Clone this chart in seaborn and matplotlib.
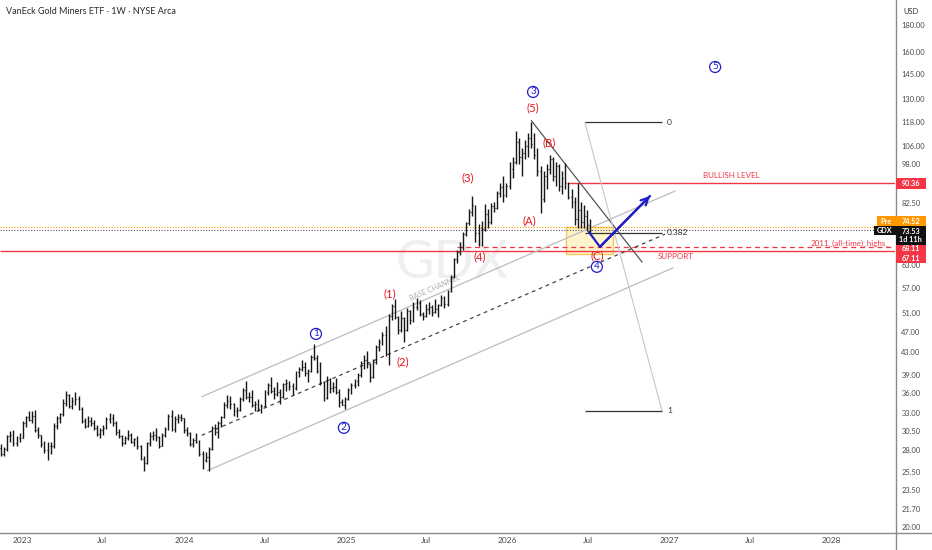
import math
import numpy as np
import pandas as pd
import matplotlib
matplotlib.use("Agg")
import matplotlib.pyplot as plt
import matplotlib.dates as mdates
import matplotlib.ticker as mticker
from matplotlib.patches import Rectangle
from matplotlib.lines import Line2D
import seaborn as sns

# weekly OHLC bars, first bar is the week of 2022-11-14
first_week = "2022-11-14"
opens = [
    28.3, 27.6, 28.2, 29.8, 29.9, 28.9, 29.5, 29.6, 31.5, 32.4,
    32.0, 32.6, 30.6, 29.9, 28.8, 28.0, 28.6, 28.5, 31.2, 32.2,
    32.8, 34.5, 35.6, 34.0, 34.8, 35.0, 33.6, 31.9, 31.2, 31.8,
    31.6, 30.9, 30.1, 30.6, 30.9, 32.1, 32.3, 31.6, 30.3, 29.8,
    28.9, 29.5, 30.0, 29.0, 29.4, 28.5, 27.0, 26.5, 28.9, 29.8,
    29.9, 29.7, 28.6, 30.0, 30.8, 32.6, 30.8, 32.1, 32.4, 32.2,
    30.6, 30.2, 28.8, 29.3, 29.1, 27.6, 26.9, 27.2, 28.2, 30.9,
    30.3, 31.5, 32.4, 34.2, 34.8, 34.3, 33.2, 33.4, 35.1, 36.4,
    35.3, 35.4, 34.1, 34.3, 33.5, 34.0, 36.2, 37.3, 36.3, 35.8,
    36.2, 35.4, 37.4, 37.6, 37.1, 36.7, 39.4, 40.0, 40.4, 39.3,
    39.6, 42.1, 42.0, 39.6, 37.7, 35.2, 38.2, 36.8, 37.0, 36.2,
    34.6, 34.2, 35.1, 36.5, 37.3, 37.9, 38.9, 41.0, 41.6, 40.8,
    38.6, 41.3, 44.0, 44.9, 46.3, 42.7, 50.3, 52.6, 50.2, 47.3,
    49.9, 47.5, 51.4, 49.5, 52.5, 53.4, 50.9, 50.3, 52.0, 52.4,
    51.2, 52.0, 52.9, 54.6, 53.0, 56.2, 59.8, 64.6, 66.8, 68.3,
    72.3, 75.8, 79.3, 81.8, 72.5, 74.1, 73.7, 78.9, 76.0, 81.7,
    81.0, 86.2, 88.5, 85.6, 89.0, 96.0, 99.0, 108.0, 101.0, 103.0,
    106.0, 110.0, 107.0, 102.0, 95.0, 84.0, 93.0, 96.0, 100.0, 93.0,
    97.0, 89.0, 92.0, 90.0, 85.0, 83.0, 77.0, 80.0, 76.0, 78.0, 75.0,
]
highs = [
    28.8, 28.4, 30.0, 30.5, 30.6, 29.8, 30.2, 31.8, 32.6, 33.3,
    33.2, 33.4, 31.0, 30.0, 29.2, 29.0, 29.0, 31.5, 32.5, 33.0,
    35.0, 36.3, 35.8, 35.3, 36.1, 35.5, 33.9, 32.2, 32.6, 32.4,
    32.0, 31.3, 30.9, 31.3, 32.4, 33.0, 32.8, 31.9, 30.8, 30.0,
    29.8, 30.6, 30.2, 29.6, 29.8, 28.7, 27.3, 29.1, 30.3, 30.5,
    30.9, 29.8, 30.2, 31.0, 32.8, 33.4, 32.5, 32.8, 32.8, 32.3,
    31.0, 30.4, 29.6, 30.2, 29.3, 27.9, 27.8, 28.4, 31.2, 31.4,
    31.8, 32.6, 34.6, 35.6, 35.5, 34.4, 33.8, 35.4, 36.8, 38.0,
    36.1, 36.5, 34.8, 35.0, 34.3, 36.5, 37.6, 38.6, 37.0, 37.8,
    36.6, 37.6, 38.3, 38.0, 37.6, 39.7, 40.4, 41.5, 41.2, 39.9,
    42.4, 44.5, 42.5, 41.2, 38.0, 38.7, 38.4, 37.8, 38.5, 36.6,
    35.1, 35.3, 36.7, 37.6, 38.2, 39.2, 41.4, 42.4, 43.3, 41.0,
    41.7, 44.3, 45.6, 46.9, 48.3, 50.8, 53.1, 54.2, 50.4, 51.4,
    50.2, 52.3, 51.8, 53.6, 54.5, 54.0, 51.3, 53.0, 53.6, 52.9,
    54.4, 53.2, 55.2, 55.0, 56.5, 60.3, 65.0, 67.3, 69.7, 72.8,
    76.1, 80.5, 85.3, 82.0, 75.4, 76.3, 82.1, 80.5, 82.5, 83.0,
    87.0, 90.0, 93.0, 90.0, 99.0, 101.0, 113.0, 110.0, 105.0, 109.0,
    112.0, 117.5, 112.0, 105.0, 97.0, 95.0, 98.0, 102.0, 101.0, 99.0,
    98.0, 95.0, 98.5, 90.4, 88.0, 85.0, 90.0, 83.0, 82.0, 80.0, 77.0,
]
lows = [
    27.3, 27.3, 27.9, 29.0, 28.5, 28.5, 29.1, 29.5, 31.0, 31.8,
    31.6, 30.3, 29.6, 28.4, 27.7, 26.9, 27.5, 28.3, 30.8, 31.5,
    32.6, 34.0, 33.7, 33.5, 34.2, 33.4, 31.6, 30.9, 31.0, 31.2,
    30.6, 29.8, 29.6, 30.0, 30.8, 31.6, 31.2, 30.0, 29.5, 28.6,
    28.8, 29.3, 28.9, 28.5, 28.2, 26.8, 25.6, 26.4, 28.6, 29.3,
    29.2, 28.3, 28.5, 29.7, 30.6, 30.5, 30.4, 31.5, 31.9, 30.2,
    29.8, 28.5, 28.4, 28.9, 27.3, 25.8, 26.6, 25.6, 28.1, 30.0,
    29.6, 31.0, 32.3, 33.7, 33.6, 32.5, 32.4, 33.2, 34.8, 35.1,
    34.6, 33.9, 33.3, 33.2, 33.0, 33.8, 35.6, 36.0, 35.1, 35.5,
    34.3, 35.2, 36.3, 36.5, 35.6, 36.4, 38.6, 39.7, 38.8, 37.8,
    39.4, 41.5, 39.2, 37.3, 34.7, 35.0, 36.0, 36.2, 35.9, 33.9,
    34.1, 33.5, 34.9, 35.8, 36.8, 37.1, 38.6, 40.0, 40.2, 37.8,
    38.4, 40.8, 43.3, 44.4, 42.3, 40.6, 49.6, 49.8, 46.5, 46.9,
    44.9, 47.2, 48.7, 49.0, 51.7, 50.5, 49.5, 50.1, 50.8, 50.5,
    51.0, 50.2, 52.6, 52.2, 52.7, 56.0, 59.5, 63.5, 65.9, 67.4,
    71.5, 74.9, 78.1, 69.6, 68.6, 68.6, 73.2, 74.0, 75.5, 79.5,
    80.5, 84.8, 83.0, 85.0, 88.0, 92.0, 98.0, 98.0, 93.0, 100.0,
    101.0, 105.0, 100.0, 93.0, 79.0, 83.0, 88.0, 94.0, 91.0, 89.0,
    87.0, 86.0, 88.0, 84.0, 81.0, 75.0, 74.0, 74.0, 74.0, 73.0, 72.4,
]
closes = [
    27.6, 28.2, 29.8, 29.9, 28.9, 29.5, 29.6, 31.5, 32.4, 32.0,
    32.6, 30.6, 29.9, 28.8, 28.0, 28.6, 28.5, 31.2, 32.2, 32.8,
    34.5, 35.6, 34.0, 34.8, 35.0, 33.6, 31.9, 31.2, 31.8, 31.6,
    30.9, 30.1, 30.6, 30.9, 32.1, 32.3, 31.6, 30.3, 29.8, 28.9,
    29.5, 30.0, 29.0, 29.4, 28.5, 27.0, 26.5, 28.9, 29.8, 29.9,
    29.7, 28.6, 30.0, 30.8, 32.6, 30.8, 32.1, 32.4, 32.2, 30.6,
    30.2, 28.8, 29.3, 29.1, 27.6, 26.9, 27.2, 28.2, 30.9, 30.3,
    31.5, 32.4, 34.2, 34.8, 34.3, 33.2, 33.4, 35.1, 36.4, 35.3,
    35.4, 34.1, 34.3, 33.5, 34.0, 36.2, 37.3, 36.3, 35.8, 36.2,
    35.4, 37.4, 37.6, 37.1, 36.7, 39.4, 40.0, 40.4, 39.3, 39.6,
    42.1, 42.0, 39.6, 37.7, 35.2, 38.2, 36.8, 37.0, 36.2, 34.6,
    34.2, 35.1, 36.5, 37.3, 37.9, 38.9, 41.0, 41.6, 40.8, 38.6,
    41.3, 44.0, 44.9, 46.3, 42.7, 50.3, 52.6, 50.2, 47.3, 49.9,
    47.5, 51.4, 49.5, 52.5, 53.4, 50.9, 50.3, 52.0, 52.4, 51.2,
    52.0, 52.9, 54.6, 53.0, 56.2, 59.8, 64.6, 66.8, 68.3, 72.3,
    75.8, 79.3, 81.8, 72.5, 74.1, 73.7, 78.9, 76.0, 81.7, 81.0,
    86.2, 88.5, 85.6, 89.0, 96.0, 99.0, 108.0, 101.0, 103.0, 106.0,
    110.0, 107.0, 102.0, 95.0, 84.0, 93.0, 96.0, 100.0, 93.0, 97.0,
    89.0, 92.0, 90.0, 85.0, 83.0, 77.0, 80.0, 76.0, 78.0, 75.0, 73.53,
]

# axes
price_ticks = [180, 160, 145, 130, 118, 106, 98, 82.5, 63, 57, 51, 47, 43,
               39, 36, 33, 30.5, 28, 25.5, 23.5, 21.7, 20]
date_ticks = ["2023-01-01", "2023-07-01", "2024-01-01", "2024-07-01",
              "2025-01-01", "2025-07-01", "2026-01-01", "2026-07-01",
              "2027-01-01", "2027-07-01", "2028-01-01"]
date_labels = ["2023", "Jul", "2024", "Jul", "2025", "Jul", "2026", "Jul",
               "2027", "Jul", "2028"]
view_dates = ("2022-11-11 18:00", "2028-05-24")
view_prices = (19.59, 200.8)

# levels
bullish_level = 90.36
bullish_from = "2026-05-18"
support_level = 67.11
ath_2011 = 68.11
ath_from = "2025-09-08"
pre_price = 74.52
last_price = 73.53

# drawings
channel_upper = [("2024-02-10", 35.4), ("2027-01-14", 87.1)]
channel_lower = [("2024-02-22", 25.6), ("2027-01-09", 62.2)]
channel_mid = [("2024-02-10", 29.9), ("2026-12-22", 72.1)]
downtrend = [("2026-02-23", 118.5), ("2026-10-31", 63.8)]
fib_high, fib_low = 117.5, 33.3
fib_levels = [0, 0.382, 1]
fib_labels = ["0", "0.382", "1"]
fib_span = ("2026-06-24", "2026-12-15")
zone_dates = ("2026-05-12", "2026-08-26")
zone_prices = (66.1, 74.4)
path_dates = ["2026-07-03", "2026-07-28", "2026-11-18"]
path_prices = [72.8, 68.2, 85.2]

major_waves = ["1", "2", "3", "4", "5"]
major_dates = ["2024-10-25", "2024-12-27", "2026-02-27", "2026-07-21", "2027-04-14"]
major_prices = [46.6, 30.9, 134.3, 62.5, 149.8]
minor_waves = ["(1)", "(2)", "(3)", "(4)", "(5)", "(A)", "(B)", "(C)"]
minor_dates = ["2025-04-10", "2025-05-09", "2025-10-03", "2025-10-30",
               "2026-02-27", "2026-02-18", "2026-04-04", "2026-07-23"]
minor_prices = [55.5, 41.2, 92.2, 65.3, 125.2, 76.3, 107.4, 65.5]

RED = "#f23645"
WAVE_RED = "#e8161c"
BLUE = "#1f1fc8"
ORANGE = "#ff9800"
BAR = "#161616"

sns.set_theme(style="white")
plt.rcParams["font.family"] = ["Lato", "DejaVu Sans"]


def d(s):
    return mdates.date2num(pd.Timestamp(s))


W, H = 932, 550
fig = plt.figure(figsize=(W / 100, H / 100), dpi=100)
fig.patch.set_facecolor("white")
ax = fig.add_axes([0, 18 / H, 895 / W, 532 / H])
ax.set_facecolor("white")
ax.set_yscale("log")
ax.set_xlim(d(view_dates[0]), d(view_dates[1]))
ax.set_ylim(*view_prices)
for sp in ax.spines.values():
    sp.set_visible(False)
ax.grid(False)

ax.yaxis.tick_right()
ax.set_yticks(price_ticks)
ax.set_yticklabels([f"{v:.2f}" for v in price_ticks])
ax.yaxis.set_minor_locator(mticker.NullLocator())
ax.tick_params(axis="y", length=0, pad=4.5, labelsize=5.4, labelcolor="#4a4a4a")
ax.set_xticks([d(t) for t in date_ticks])
ax.set_xticklabels(date_labels)
ax.tick_params(axis="x", length=0, pad=3.5, labelsize=6, labelcolor="#4a4a4a")

# watermark
ax.text(0.505, 0.505, "GDX", transform=ax.transAxes, fontsize=38,
        color="#efefef", ha="center", va="center", zorder=0)

xr = ax.get_xlim()[1]
xl = ax.get_xlim()[0]

# horizontal levels
ax.hlines(support_level, xl, xr, color=RED, lw=1.0, zorder=2)
ax.hlines(ath_2011, d(ath_from), xr, color=RED, lw=0.9, linestyles=(0, (4, 3)), zorder=2)
ax.hlines(bullish_level, d(bullish_from), xr, color=RED, lw=1.0, zorder=2)
ax.hlines(pre_price, xl, xr, color=ORANGE, lw=0.8, linestyles=(0, (1, 1.5)), zorder=2)
ax.hlines(last_price, xl, xr, color="#555555", lw=0.8, linestyles=(0, (1, 1.5)), zorder=2)

# yellow zone
zx0, zx1 = d(zone_dates[0]), d(zone_dates[1])
ax.add_patch(Rectangle((zx0, zone_prices[0]), zx1 - zx0, zone_prices[1] - zone_prices[0],
                       facecolor="#fff2c6", edgecolor="#f5c24c", lw=1.0, alpha=0.9, zorder=1))

# channel
for pts, col, ls in [(channel_upper, "#bcbcbc", "-"), (channel_lower, "#bcbcbc", "-"),
                     (channel_mid, "#444444", (0, (3, 3)))]:
    ax.plot([d(p[0]) for p in pts], [p[1] for p in pts], color=col, lw=0.9,
            linestyle=ls, zorder=2)

# downtrend line
ax.plot([d(p[0]) for p in downtrend], [p[1] for p in downtrend], color="#555555",
        lw=0.9, zorder=2)

# fibonacci
fib_vals = [math.exp(math.log(fib_high) - r * (math.log(fib_high) - math.log(fib_low)))
            for r in fib_levels]
fx0, fx1 = d(fib_span[0]), d(fib_span[1])
ax.plot([fx0, fx1], [fib_vals[0], fib_vals[-1]], color="#c8c8c8", lw=0.8, zorder=2)
for v, lab in zip(fib_vals, fib_labels):
    ax.hlines(v, fx0, fx1, color="#333333", lw=0.9, zorder=3)
    ax.text(fx1 + 11, v, lab, fontsize=6, color="#333333", ha="left", va="center")

# price bars
bar_x = mdates.date2num(pd.date_range(first_week, periods=len(closes), freq="7D"))
ax.vlines(bar_x, lows, highs, colors=BAR, lw=1.0, zorder=4)
ax.hlines(opens, bar_x - 2.0, bar_x, colors=BAR, lw=0.9, zorder=4)
ax.hlines(closes, bar_x, bar_x + 2.0, colors=BAR, lw=0.9, zorder=4)

# projected path
px = [d(t) for t in path_dates]
sns.lineplot(x=px, y=path_prices, ax=ax, color=BLUE, lw=1.6, sort=False,
             estimator=None, zorder=5)
ax.annotate("", xy=(px[-1], path_prices[-1]), xytext=(px[-2], path_prices[-2]),
            arrowprops=dict(arrowstyle="->", color=BLUE, lw=1.6, mutation_scale=13,
                            shrinkA=0, shrinkB=0), zorder=5)

# texts on levels
ax.text(d("2027-05-21"), 93.0, "BULLISH LEVEL", fontsize=5.8, color=RED,
        ha="center", va="center")
ax.text(d("2027-01-16"), 65.4, "SUPPORT", fontsize=5.8, color=RED,
        ha="center", va="center")
ax.text(0.994, 69.1, "2011_(all-time)_highs_", fontsize=5.8, color=RED, ha="right",
        va="center", transform=ax.get_yaxis_transform())

# channel label rotated along the upper line
p1 = ax.transData.transform((d(channel_upper[0][0]), channel_upper[0][1]))
p2 = ax.transData.transform((d(channel_upper[1][0]), channel_upper[1][1]))
ang = math.degrees(math.atan2(p2[1] - p1[1], p2[0] - p1[0]))
ax.text(d("2025-07-21"), 57.0, "BASE CHANNEL", fontsize=5.3, color="#b0b0b0",
        rotation=ang, rotation_mode="anchor", ha="center", va="center", zorder=3)

# wave labels
for lab, dt, pr in zip(major_waves, major_dates, major_prices):
    ax.text(d(dt), pr, lab, fontsize=7.2, color=BLUE, ha="center", va="center", zorder=6,
            bbox=dict(boxstyle="circle,pad=0.1", fc="white", ec=BLUE, lw=0.9))
for lab, dt, pr in zip(minor_waves, minor_dates, minor_prices):
    ax.text(d(dt), pr, lab, fontsize=8.2, color=WAVE_RED, ha="center", va="center", zorder=6)

# frame lines
fig.add_artist(Line2D([0, 1], [1 - 532.5 / H] * 2, transform=fig.transFigure,
                      color="#8a8a8a", lw=1.0))
fig.add_artist(Line2D([895.5 / W] * 2, [0, 1], transform=fig.transFigure,
                      color="#8a8a8a", lw=1.0))

# header
fig.text(6 / W, 1 - 11 / H, "VanEck Gold Miners ETF · 1W · NYSE Arca", fontsize=6.5,
         color="#2a2a2a", ha="left", va="center")
fig.text(903 / W, 1 - 11 / H, "USD", fontsize=5.4, color="#333333", ha="left", va="center")


# price tags on the scale (pixel boxes from the top of the image)
def tag(text, color, top, bottom, left=895.5, right=926, fs=5.2):
    fig.add_artist(Rectangle((left / W, 1 - bottom / H), (right - left) / W,
                             (bottom - top) / H, transform=fig.transFigure,
                             facecolor=color, edgecolor="none", zorder=3))
    fig.text((left + right) / 2 / W, 1 - (top + bottom) / 2 / H, text, fontsize=fs,
             color="white", ha="center", va="center", fontweight="bold", zorder=4,
             linespacing=1.3)


tag(f"{bullish_level:.2f}", RED, 177.5, 188.5)
tag(f"{pre_price:.2f}", ORANGE, 216, 226)
tag("Pre", ORANGE, 216, 226, left=877, right=895.5)
tag(f"{last_price:.2f}\n1d 11h", "#111111", 226, 245)
tag("GDX", "#111111", 226, 234.5, left=874, right=895.5)
tag(f"{ath_2011:.2f}", RED, 244.5, 253.5)
tag(f"{support_level:.2f}", RED, 253.5, 263)

fig.savefig("out.png", dpi=100)
